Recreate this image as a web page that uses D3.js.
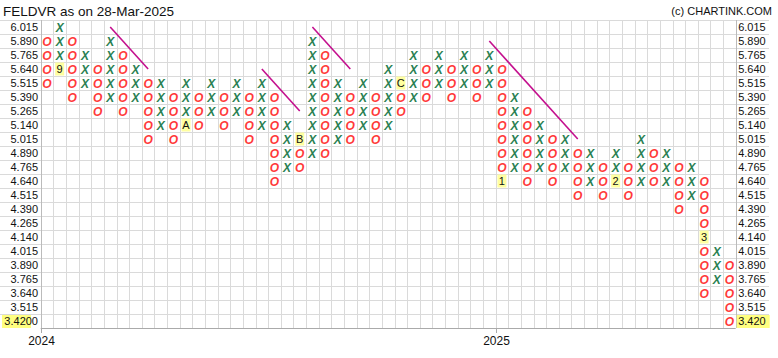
<!DOCTYPE html>
<html>
<head>
<script src="https://d3js.org/d3.v7.min.js"></script>
<style>
  html, body { margin: 0; padding: 0; background: #fff; }
  svg { display: block; font-family: "Liberation Sans", Arial, sans-serif; }
</style>
</head>
<body>
<div id="chart"></div>
<script>
"use strict";
// price rows (box levels), top to bottom; last row is the current price
const ROWS = ["6.015", "5.890", "5.765", "5.640", "5.515", "5.390", "5.265", "5.140",
  "5.015", "4.890", "4.765", "4.640", "4.515", "4.390", "4.265", "4.140",
  "4.015", "3.890", "3.765", "3.640", "3.515", "3.420"];
// one entry per column: type, top box, bottom box
const COL_TYPE = ["O","X","O","X","O","X","O","X","O","X","O","X","O","X","O","X","O","X","O","X",
  "O","X","O","X","O","X","O","X","O","X","O","X","O","X","O","X","O","X","O","X",
  "O","X","O","X","O","X","O","X","O","X","O","X","O","X","O"];
const COL_TOP = ["5.890","6.015","5.890","5.765","5.640","5.890","5.765","5.640","5.515","5.515",
  "5.390","5.515","5.390","5.515","5.390","5.515","5.390","5.515","5.390","5.140",
  "5.015","5.890","5.765","5.515","5.390","5.515","5.390","5.640","5.515","5.765",
  "5.640","5.765","5.640","5.765","5.640","5.765","5.640","5.390","5.265","5.140",
  "5.015","5.015","4.890","4.890","4.765","4.890","4.765","5.015","4.890","4.890",
  "4.765","4.765","4.640","4.015","3.890"];
const COL_BOTTOM = ["5.515","5.640","5.390","5.515","5.265","5.390","5.265","5.390","5.015","5.140",
  "5.015","5.140","5.140","5.265","5.140","5.265","5.015","5.140","4.640","4.765",
  "4.765","4.890","4.890","5.015","5.015","5.140","5.015","5.140","5.265","5.390",
  "5.390","5.515","5.390","5.515","5.390","5.515","4.640","4.765","4.640","4.765",
  "4.640","4.765","4.515","4.640","4.515","4.640","4.515","4.640","4.640","4.640",
  "4.390","4.515","3.640","3.765","3.420"];
// month markers (replace the box): column, price, label
const MARK_COL = [1, 11, 20, 28, 36, 45, 52];
const MARK_PRICE = ["5.640", "5.140", "5.015", "5.515", "4.640", "4.640", "4.140"];
const MARK_TEXT = ["9", "A", "B", "C", "1", "2", "3"];
// trend lines: from (column, price) to (column, price)
const TREND_FROM = [[5, "6.015"], [17, "5.640"], [21, "6.015"], [35, "5.890"]];
const TREND_TO = [[8, "5.640"], [20, "5.265"], [24, "5.640"], [42, "5.015"]];
// year ticks on column boundaries
const YEAR_COL = [0, 36];
const YEAR_TEXT = ["2024", "2025"];

const W = 778, H = 358;
const LEFT = 40.7, RIGHT = 735.7, TOP = 20, BOTTOM = 328;

const svg = d3.select("#chart").append("svg").attr("width", W).attr("height", H);

const x = d3.scaleBand().domain(d3.range(COL_TYPE.length)).range([LEFT, RIGHT]);
const y = d3.scaleBand().domain(ROWS).range([TOP, BOTTOM]);
const cx = i => x(i) + x.bandwidth() / 2;
const cy = p => y(p) + y.bandwidth() / 2;

// grid
const grid = svg.append("g").attr("stroke", "#dadada").attr("stroke-width", 1);
grid.selectAll(".h").data(ROWS.slice(1)).join("line")
  .attr("x1", 0).attr("x2", 769)
  .attr("y1", d => Math.round(y(d)) + 0.5).attr("y2", d => Math.round(y(d)) + 0.5);
grid.append("line").attr("x1", 0).attr("x2", 769)
  .attr("y1", TOP + 0.5).attr("y2", TOP + 0.5);
grid.selectAll(".v").data(d3.range(1, COL_TYPE.length)).join("line")
  .attr("y1", TOP).attr("y2", BOTTOM)
  .attr("x1", d => Math.round(x(d)) + 0.5).attr("x2", d => Math.round(x(d)) + 0.5);
svg.append("line").attr("stroke", "#bbb")
  .attr("x1", Math.round(LEFT) + 0.5).attr("x2", Math.round(LEFT) + 0.5)
  .attr("y1", TOP).attr("y2", BOTTOM);
svg.append("line").attr("stroke", "#bbb")
  .attr("x1", Math.round(RIGHT) + 0.5).attr("x2", Math.round(RIGHT) + 0.5)
  .attr("y1", TOP).attr("y2", BOTTOM);

// bottom axis
svg.append("line").attr("stroke", "#aaa")
  .attr("x1", LEFT).attr("x2", RIGHT).attr("y1", BOTTOM + 0.5).attr("y2", BOTTOM + 0.5);
const years = svg.append("g");
YEAR_COL.forEach((c, i) => {
  const xx = Math.round(x(c)) + 0.5;
  years.append("line").attr("stroke", "#aaa")
    .attr("x1", xx).attr("x2", xx).attr("y1", BOTTOM).attr("y2", BOTTOM + 5);
  years.append("text").attr("x", xx).attr("y", 345).attr("text-anchor", "middle")
    .attr("font-size", 12).attr("fill", "#111").text(YEAR_TEXT[i]);
});

// price labels
const last = ROWS[ROWS.length - 1];
svg.append("rect").attr("x", 2).attr("y", y(last) + 1).attr("width", 29).attr("height", y.bandwidth() - 1)
  .attr("fill", "#ffff80");
svg.append("rect").attr("x", RIGHT + 1).attr("y", y(last) + 1).attr("width", 33).attr("height", y.bandwidth() - 1)
  .attr("fill", "#ffff80");
svg.append("g").selectAll("text").data(ROWS).join("text")
  .attr("x", 38).attr("y", d => cy(d) + 4).attr("text-anchor", "end")
  .attr("font-size", 11).attr("fill", "#111")
  .text(d => d === last ? d + "0" : d);
svg.append("g").selectAll("text").data(ROWS).join("text")
  .attr("x", RIGHT + 2.5).attr("y", d => cy(d) + 4)
  .attr("font-size", 11).attr("fill", "#111").text(d => d);

// boxes
const marks = new Set(MARK_COL.map((c, i) => c + "|" + MARK_PRICE[i]));
const boxes = [];
COL_TYPE.forEach((t, i) => {
  const a = ROWS.indexOf(COL_TOP[i]), b = ROWS.indexOf(COL_BOTTOM[i]);
  for (let r = a; r <= b; r++) {
    if (!marks.has(i + "|" + ROWS[r])) boxes.push({ col: i, price: ROWS[r], t });
  }
});
svg.append("g").selectAll("text").data(boxes).join("text")
  .attr("x", d => cx(d.col)).attr("y", d => cy(d.price) + 4.5)
  .attr("text-anchor", "middle").attr("font-size", 12).attr("font-style", "italic")
  .attr("font-weight", "bold")
  .attr("fill", d => d.t === "X" ? "#2a7f52" : "#ff3a3a")
  .text(d => d.t);

// month markers
const mg = svg.append("g");
MARK_COL.forEach((c, i) => {
  mg.append("rect").attr("x", cx(c) - 4.5).attr("y", cy(MARK_PRICE[i]) - 6.5)
    .attr("width", 9).attr("height", 13).attr("fill", "#ffffa0");
  mg.append("text").attr("x", cx(c)).attr("y", cy(MARK_PRICE[i]) + 4)
    .attr("text-anchor", "middle").attr("font-size", 11).attr("fill", "#111").text(MARK_TEXT[i]);
});

// trend lines
svg.append("g").selectAll("line").data(TREND_FROM).join("line")
  .attr("x1", d => cx(d[0])).attr("y1", d => cy(d[1]))
  .attr("x2", (d, i) => cx(TREND_TO[i][0])).attr("y2", (d, i) => cy(TREND_TO[i][1]))
  .attr("stroke", "#c4108e").attr("stroke-width", 1.6);

// titles
svg.append("text").attr("x", 3).attr("y", 16).attr("font-size", 13.5).attr("fill", "#111")
  .text("FELDVR as on 28-Mar-2025");
svg.append("text").attr("x", 772).attr("y", 15).attr("text-anchor", "end").attr("font-size", 11)
  .attr("fill", "#111").text("(c) CHARTINK.COM");
</script>
</body>
</html>
